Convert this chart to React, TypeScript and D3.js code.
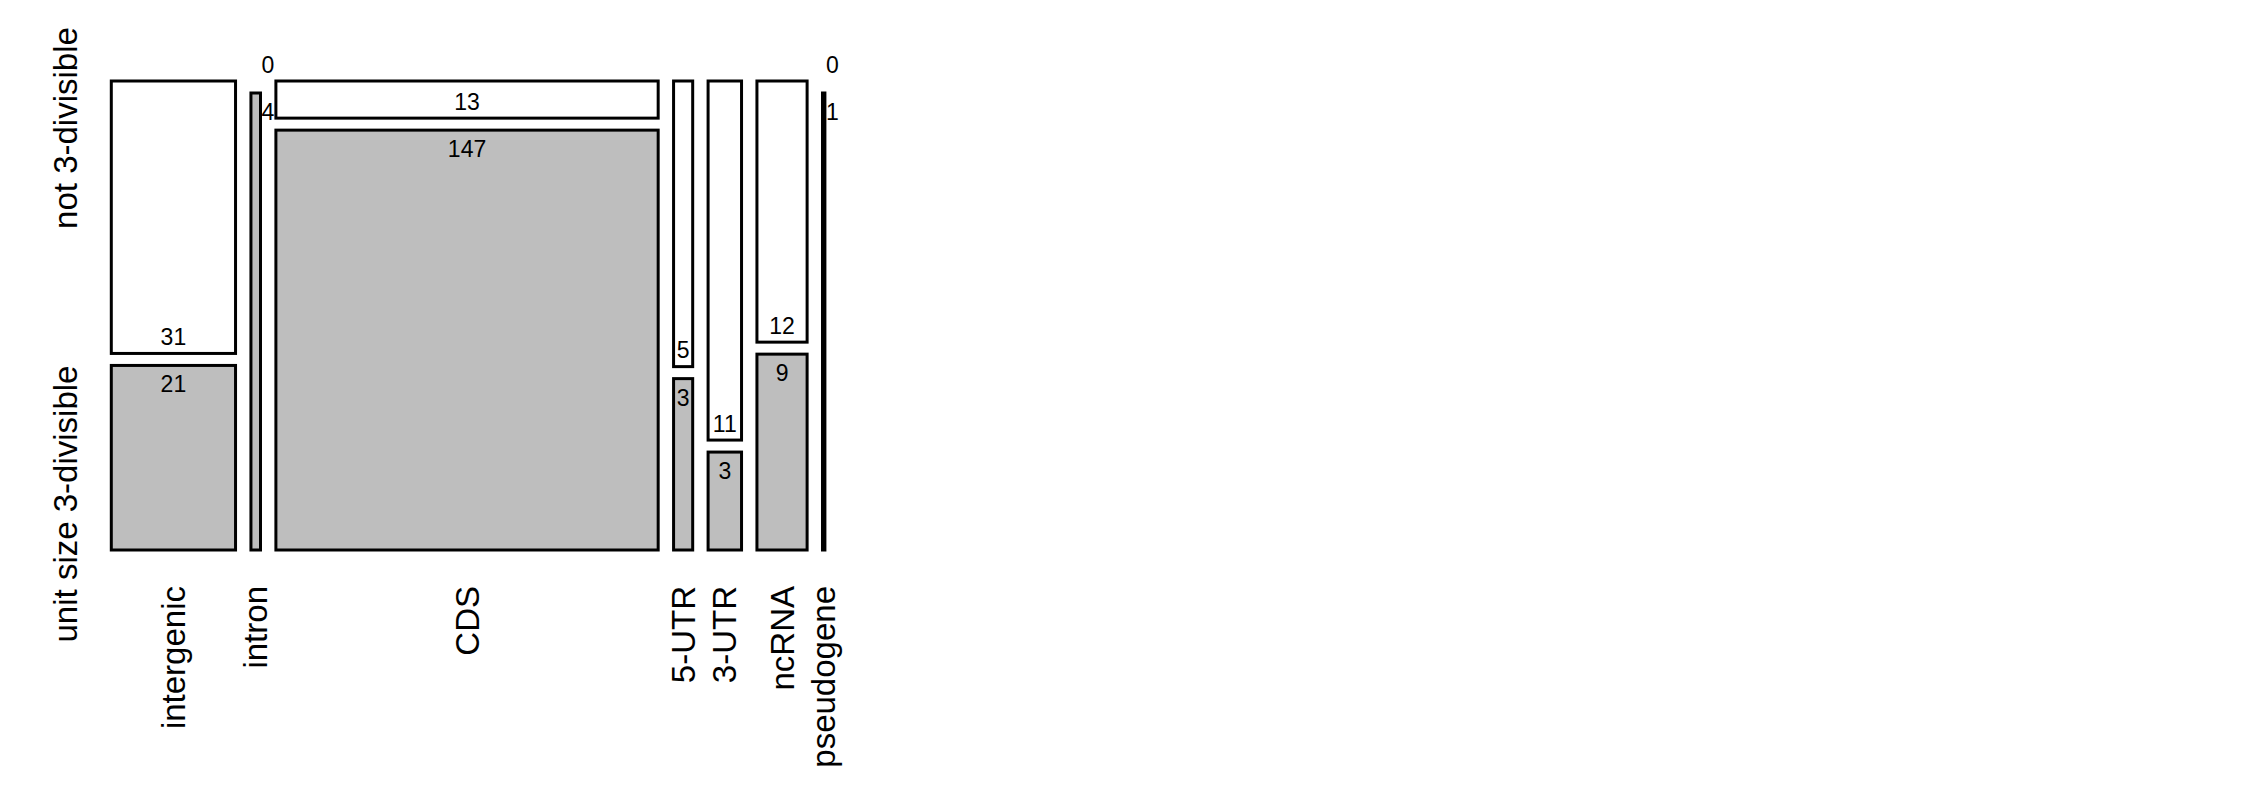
import React, { useRef, useEffect } from 'react'
import * as d3 from 'd3'

// mosaic: region type (columns) x unit size class (rows)
const categories = ['intergenic', 'intron', 'CDS', '5-UTR', '3-UTR', 'ncRNA', 'pseudogene']
const rowLabels = ['not 3-divisible', 'unit size 3-divisible']
const notDivisible = [31, 0, 13, 5, 11, 12, 0]
const divisible = [21, 4, 147, 3, 3, 9, 1]

const rowFills = ['#ffffff', '#bebebe']

const App = () => {
	const svgRef = useRef<SVGSVGElement | null>(null)

	//svg container width/height
	const svgWidth = 2250,
		svgHeight = 810

	// plot box and the gaps between tiles
	const left = 111.3,
		right = 824.9,
		top = 81,
		bottom = 550
	const gapX = 15.4,
		gapY = 12

	useEffect(() => {
		const svg = d3.select(svgRef.current)
		svg.selectAll('*').remove()

		const font = 'Liberation Sans, Arial, Helvetica, sans-serif'
		const totals = categories.map((c, i) => notDivisible[i] + divisible[i])
		const grand = d3.sum(totals)
		const innerW = right - left - gapX * (categories.length - 1)

		const x = d3.scaleLinear().domain([0, grand]).range([0, innerW])
		const starts = [0, ...Array.from(d3.cumsum(totals))].slice(0, -1)
		const colX = (i: number) => left + x(starts[i]) + gapX * i
		const colW = (i: number) => x(totals[i])

		// share of the column -> height
		const y = d3.scaleLinear().domain([0, 1]).range([0, bottom - top - gapY])

		const cells = categories.flatMap((c, i) => {
			const h0 = y(notDivisible[i] / totals[i])
			const h1 = y(divisible[i] / totals[i])
			return [
				{ i, row: 0, value: notDivisible[i], y0: top, h: h0 },
				{ i, row: 1, value: divisible[i], y0: top + h0 + gapY, h: h1 },
			]
		})

		svg
			.selectAll('rect.cell')
			.data(cells)
			.enter()
			.append('rect')
			.attr('class', 'cell')
			.attr('x', (d) => colX(d.i))
			.attr('y', (d) => d.y0)
			.attr('width', (d) => colW(d.i))
			.attr('height', (d) => d.h)
			.attr('fill', (d) => rowFills[d.row])
			.attr('stroke', '#000')
			.attr('stroke-width', 3)

		// counts: bottom of upper tile, top of lower tile; beside the tile if it is too narrow
		const counts = svg
			.selectAll('text.count')
			.data(cells)
			.enter()
			.append('text')
			.attr('class', 'count')
			.text((d) => d.value)
			.attr('font-family', font)
			.attr('font-size', 23)
			.attr('fill', '#000')
			.attr('y', (d) => (d.row === 0 ? d.y0 + d.h - 8.5 : d.y0 + 27))

		counts.each(function (d) {
			const t = d3.select(this)
			const w = (this as SVGTextElement).getComputedTextLength()
			if (w + 2 > colW(d.i)) {
				t.attr('x', colX(d.i) + colW(d.i) + 1).attr('text-anchor', 'start')
			} else {
				t.attr('x', colX(d.i) + colW(d.i) / 2).attr('text-anchor', 'middle')
			}
		})

		// column labels, vertical
		svg
			.selectAll('text.col')
			.data(categories)
			.enter()
			.append('text')
			.attr('class', 'col')
			.text((d) => d)
			.attr('font-family', font)
			.attr('font-size', 33)
			.attr('text-anchor', 'end')
			.attr('dy', '0.35em')
			.attr('transform', (d, i) => `translate(${colX(i) + colW(i) / 2},${bottom + 36}) rotate(-90)`)

		// row labels
		const rowCenters = [128, 504]
		svg
			.selectAll('text.row')
			.data(rowLabels)
			.enter()
			.append('text')
			.attr('class', 'row')
			.text((d) => d)
			.attr('font-family', font)
			.attr('font-size', 33)
			.attr('text-anchor', 'middle')
			.attr('transform', (d, i) => `translate(77,${rowCenters[i]}) rotate(-90)`)
	}, [])

	return (
		<svg
			ref={svgRef}
			width={svgWidth}
			height={svgHeight}
			style={{ position: 'absolute', left: 0, top: 0, background: '#fff' }}
		></svg>
	)
}

export default App
